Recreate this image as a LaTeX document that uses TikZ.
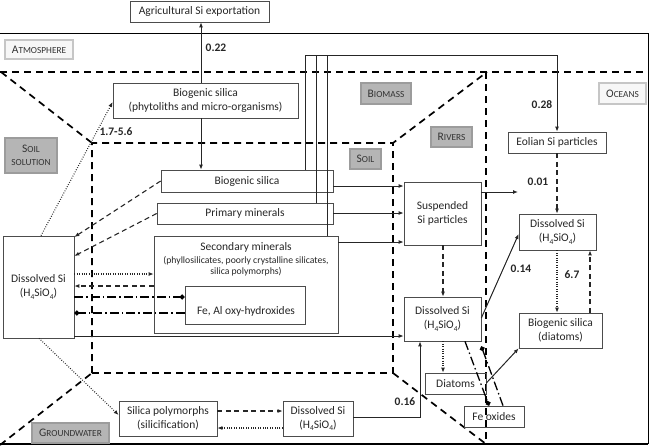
\documentclass[tikz,border=0pt]{standalone}
\usepackage{fontspec}
\setmainfont{Carlito}
\usetikzlibrary{arrows.meta,calc}
\newcommand{\sbs}[1]{\raisebox{-0.25em}{\fontsize{7.5}{8}\selectfont #1}}
\newcommand{\hsio}{(H\sbs{4}SiO\sbs{4})}
\newcommand{\smc}[2]{{\fontsize{11.5}{12}\selectfont #1}{\fontsize{9.3}{10}\selectfont #2}}
\begin{document}
\begin{tikzpicture}[x=1pt,y=-1pt,
  every node/.style={font=\fontsize{11.5}{14}\selectfont, text=black!85},
  box/.style={draw=black!70, line width=0.7pt, inner sep=0pt, align=center},
  txt/.style={inner sep=0pt, align=center},
  num/.style={inner sep=0pt, font=\fontsize{11.5}{14}\selectfont\bfseries},
  reg/.style={inner sep=0pt, align=center, line width=1.6pt, font=\fontsize{11}{11}\selectfont, text=black!80},
  regdark/.style={reg, fill=gray!58, draw=gray!78},
  reglight/.style={reg, fill=gray!6, draw=gray!45},
  zone/.style={line width=1.7pt, dash pattern=on 7pt off 5pt},
  conn/.style={line width=1pt, black!85},
  arr/.style={conn, -{Latex[length=5pt,width=4pt]}},
  dotarr/.style={arr, dash pattern=on 0.8pt off 1.6pt, line width=1.1pt},
  dasharr/.style={arr, dash pattern=on 5pt off 3.5pt, line width=1.1pt},
  dd/.style={line width=1.3pt, dash pattern=on 9pt off 3pt on 1.5pt off 3pt, -{Circle[length=5pt]}},
]
\useasboundingbox (0,0) rectangle (651,447);

% frame
\draw[line width=1pt] (0,33) -- (648,33) -- (648,444);
\draw[line width=1.6pt] (0,444) -- (648,444);

% zones
\draw[zone] (0,72) -- (648,72);
\draw[zone] (1,72) -- (92,143);
\draw[zone] (92,373) -- (92,143) -- (393,143) -- (487,72);
\draw[zone] (92,373) -- (393,373) -- (393,143);
\draw[zone] (0,445) -- (92,373);
\draw[zone] (393,373) -- (486,444);
\draw[zone] (486,72) -- (486,444);

% zone labels
\node[reglight, minimum width=68pt, minimum height=19pt] (atm) at (39,49.5) {\smc{A}{TMOSPHERE}};
\node[regdark, minimum width=52pt, minimum height=35pt, font=\fontsize{11}{13}\selectfont] (soilsol) at (31,155.5) {\smc{S}{OIL}\\\smc{}{SOLUTION}};
\node[regdark, minimum width=50pt, minimum height=21pt] (biom) at (386,93.5) {\smc{B}{IOMASS}};
\node[reglight, minimum width=47pt, minimum height=21pt] (oce) at (622.5,93.5) {\smc{O}{CEANS}};
\node[regdark, minimum width=41pt, minimum height=20pt] (riv) at (451.5,137) {\smc{R}{IVERS}};
\node[regdark, minimum width=31pt, minimum height=20pt] (soil) at (365.5,159) {\smc{S}{OIL}};
\node[regdark, minimum width=77pt, minimum height=20pt] (gw) at (70.5,433) {\smc{G}{ROUNDWATER}};

% boxes
\node[box, minimum width=139pt, minimum height=21pt] (agri) at (199.5,11.5) {Agricultural Si exportation};
\node[box, minimum width=185pt, minimum height=35pt] (bphyt) at (205.5,100.5) {Biogenic silica\\(phytoliths and micro-organisms)};
\node[box, minimum width=172pt, minimum height=22pt] (bsoil) at (247,181) {Biogenic silica};
\node[box, minimum width=176pt, minimum height=21pt] (prim) at (245,213.5) {Primary minerals};
\node[box, minimum width=184pt, minimum height=97pt] (sec) at (246,284.5) {};
\node[txt] (sectitle) at (246,247) {Secondary minerals};
\node[txt, font=\fontsize{9.7}{11}\selectfont] (secsub) at (246,266.5) {(phyllosilicates, poorly crystalline silicates,\\silica polymorphs)};
\node[box, minimum width=120pt, minimum height=38pt] (feal) at (245,305) {};
\node[txt] (fealtxt) at (246,311) {Fe, Al oxy-hydroxides};
\node[box, minimum width=71pt, minimum height=102pt] (dsoil) at (38.5,287) {Dissolved Si\\\hsio};
\node[box, minimum width=77pt, minimum height=63pt] (susp) at (442.5,213.5) {Suspended\\Si particles};
\node[box, minimum width=77pt, minimum height=44pt] (driv) at (442.5,319) {Dissolved Si\\\hsio};
\node[box, minimum width=98pt, minimum height=21pt] (eol) at (557,142.5) {Eolian Si particles};
\node[box, minimum width=77pt, minimum height=36pt] (doc) at (557.5,232) {Dissolved Si\\\hsio};
\node[box, minimum width=83pt, minimum height=35pt] (bdia) at (560.5,330.5) {Biogenic silica\\(diatoms)};
\node[box, minimum width=61pt, minimum height=21pt] (diat) at (455.5,383.5) {Diatoms};
\node[box, minimum width=60pt, minimum height=21pt] (feox) at (494,416.5) {Fe oxides};
\node[box, minimum width=98pt, minimum height=35pt] (spoly) at (168,418.5) {Silica polymorphs\\(silicification)};
\node[box, minimum width=70pt, minimum height=35pt] (dgw) at (318,418.5) {Dissolved Si\\\hsio};

% connectors
\draw[arr] (bphyt.north -| 201,0) -- (agri.south -| 201,0);
\node[num] (n022) at (216,48) {0.22};
\draw[arr] (bphyt.south -| 201,0) -- (bsoil.north -| 201,0);
\draw[dotarr] (dsoil.north -| 41,0) -- (bphyt.west |- 0,102);
\node[num] (n17) at (116,132) {1.7-5.6};
\draw[dasharr] (bsoil.west) -- (dsoil.east |- 0,237);
\draw[dasharr] (prim.west) -- (dsoil.east |- 0,256);
\draw[dotarr] (dsoil.east |- 0,274) -- (sec.west |- 0,274);
\draw[dasharr] (sec.west |- 0,286) -- (dsoil.east |- 0,286);
\draw[dd] (dsoil.east |- 0,297) -- (feal.west |- 0,297);
\draw[dd] (feal.west |- 0,313) -- (dsoil.east |- 0,313);
\draw[arr] (dsoil.east |- 0,336) -- (driv.west |- 0,336);
\draw[arr] (bsoil.east |- 0,186) -- (susp.west |- 0,186);
\draw[arr] (prim.east |- 0,213) -- (susp.west |- 0,213);
\draw[arr] (sec.east |- 0,242) -- (susp.west |- 0,242);
\coordinate (toOcean) at (518,192);
\draw[arr] (susp.east |- toOcean) -- (toOcean);
\node[num] (n001) at (538,182) {0.01};
\coordinate (top) at (eol.north |- 0,55);
\draw[conn] (bsoil.north -| 305,0) |- (top);
\draw[conn] (prim.north -| 316,0) |- (top);
\draw[conn] (sec.north -| 327,0) |- (top);
\draw[arr] (top) -- (eol.north);
\node[num] (n028) at (542,105) {0.28};
\draw[dasharr] (eol.south) -- (doc.north -| eol.south);
\draw[dasharr] (susp.south -| 443,0) -- (driv.north -| 443,0);
\draw[dotarr] (driv.south -| 443,0) -- (diat.north -| 443,0);
\draw[arr] (driv.east |- 0,318) -- (doc.west |- 0,234);
\node[num] (n014) at (521,269) {0.14};
\draw[dotarr] (doc.south -| 557,0) -- (bdia.north -| 557,0);
\node[num] (n67) at (572,275) {6.7};
\draw[dasharr] (bdia.north -| 590,0) -- (doc.south -| 590,0);
\draw[arr] (diat.east |- 0,383) -- (bdia.south west);
\draw[arr] (dgw.east |- 0,417) -| (driv.south -| 420,0);
\node[num] (n016) at (405,402) {0.16};
\draw[dd] (driv.south -| 465,0) -- (feox.north -| 489,0);
\draw[dd] (feox.north -| 503,0) -- ([yshift=-5pt]driv.south east);
\draw[dasharr] (spoly.east |- 0,411) -- (dgw.west |- 0,411);
\draw[dotarr] (dgw.west |- 0,428) -- (spoly.east |- 0,428);
\draw[dotarr] (dsoil.south -| 39,0) -- (spoly.west |- 0,415);
\end{tikzpicture}
\end{document}
